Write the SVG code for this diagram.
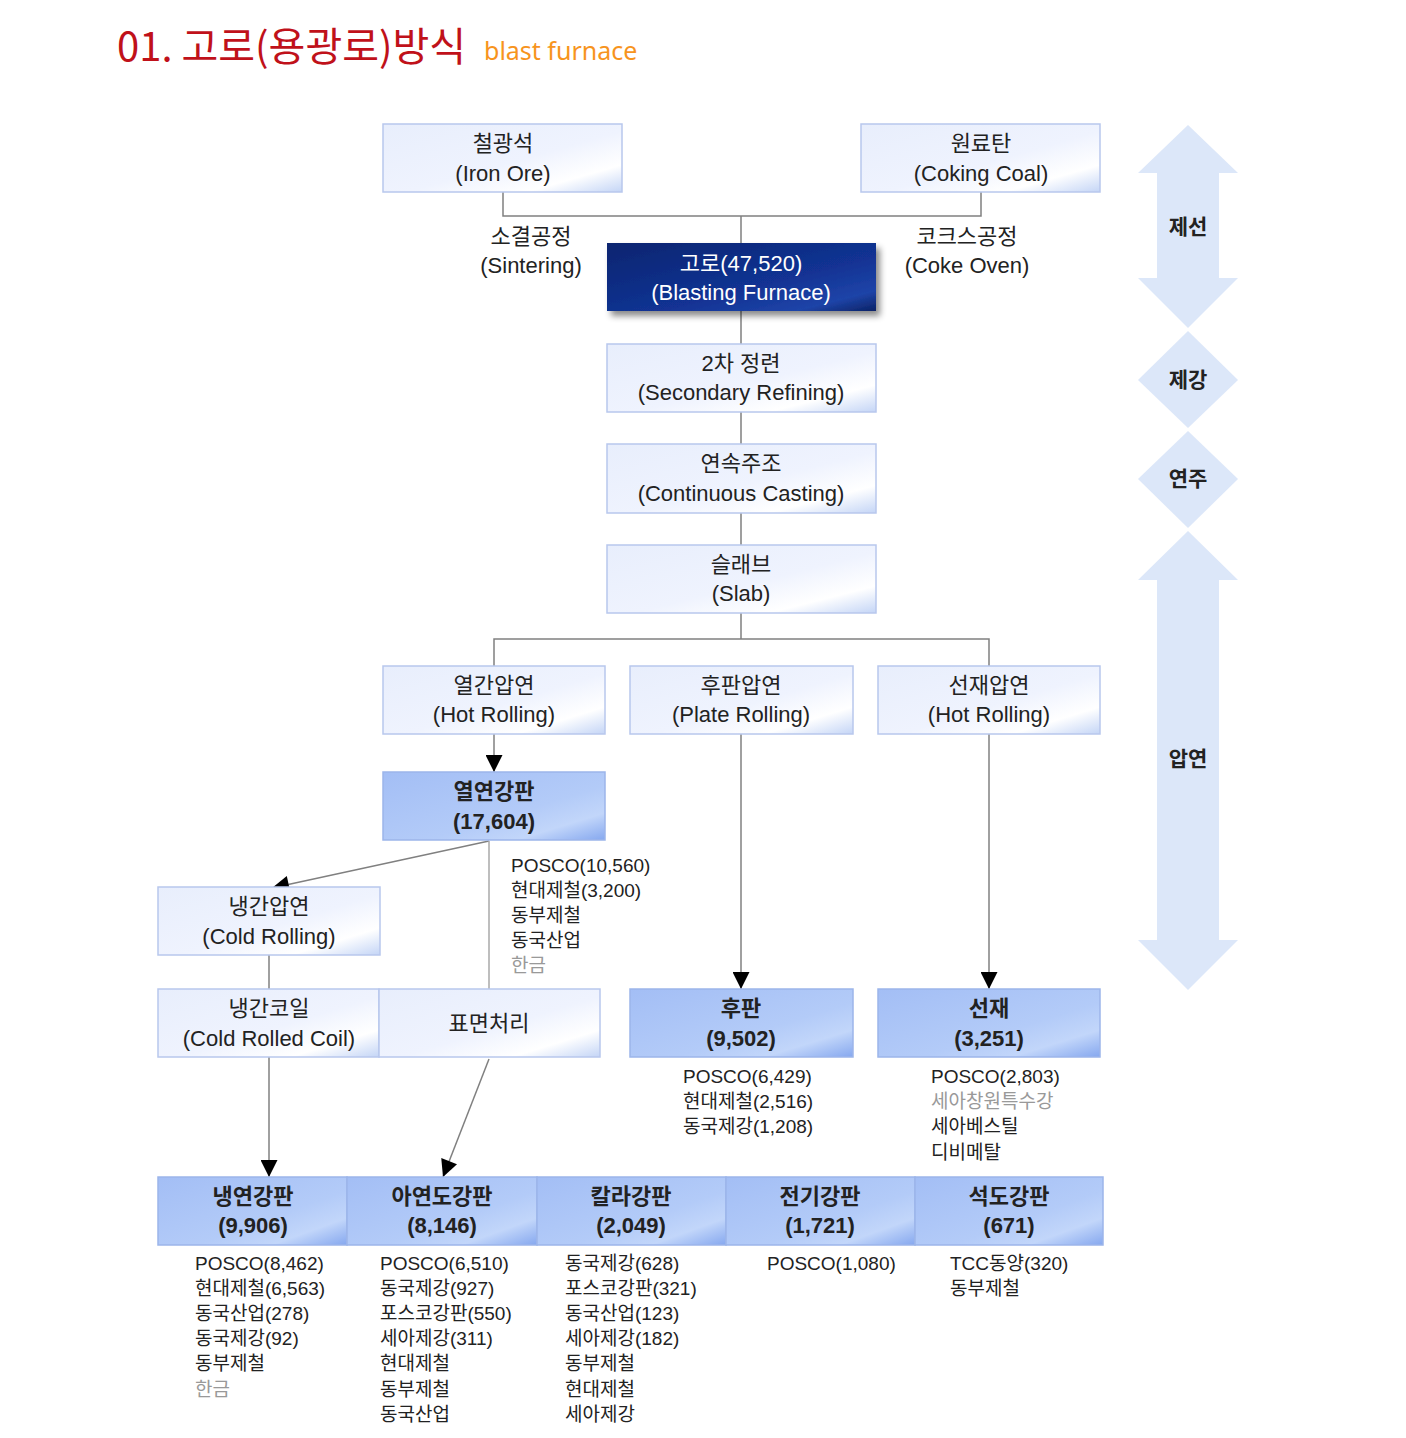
<svg xmlns="http://www.w3.org/2000/svg" width="1406" height="1438" viewBox="0 0 1406 1438">
<defs>
<linearGradient id="gLight" x1="0" y1="0" x2="1" y2="1">
<stop offset="0" stop-color="#e8eefc"/>
<stop offset="0.55" stop-color="#eff3fe"/>
<stop offset="0.8" stop-color="#ffffff"/>
<stop offset="1" stop-color="#c4d5f6"/>
</linearGradient>
<linearGradient id="gProd" x1="0" y1="0" x2="1" y2="1">
<stop offset="0" stop-color="#a3bef5"/>
<stop offset="0.6" stop-color="#b3cbf8"/>
<stop offset="0.8" stop-color="#c2d6fa"/>
<stop offset="1" stop-color="#86a8ef"/>
</linearGradient>
<linearGradient id="gNavy" x1="0" y1="0" x2="1" y2="1">
<stop offset="0" stop-color="#0a2570"/>
<stop offset="0.6" stop-color="#123394"/>
<stop offset="0.85" stop-color="#1e44a8"/>
<stop offset="1" stop-color="#0b2266"/>
</linearGradient>
<filter id="shadow" x="-10%" y="-20%" width="125%" height="150%">
<feDropShadow dx="4" dy="5" stdDeviation="3" flood-color="#000" flood-opacity="0.45"/>
</filter>
<marker id="arr" viewBox="0 0 10 10" refX="10" refY="5" markerWidth="19" markerHeight="17" markerUnits="userSpaceOnUse" orient="auto">
<path d="M0,0 L10,5 L0,10 z" fill="#000"/>
</marker>
<style>
.box{fill:url(#gLight);stroke:#b8c7ed;stroke-width:1.5}
.prod{fill:url(#gProd);stroke:#9cb5ea;stroke-width:1.5}
.t{font-family:"Liberation Sans","Noto Sans CJK KR",sans-serif;font-size:22px;fill:#222;text-anchor:middle}
.b{font-weight:bold}
.w{fill:#fff}
.l{font-family:"Liberation Sans","Noto Sans CJK KR",sans-serif;font-size:19px;fill:#222}
.g{fill:#999}
.k{font-family:"Noto Sans CJK KR",sans-serif;font-size:21px;font-weight:bold;fill:#222;text-anchor:middle}
.c{fill:none;stroke:#808080;stroke-width:1.5}
.side{fill:#dce7f9}
</style>
</defs>
<rect width="1406" height="1438" fill="#fff"/>

<g id="title">
<text x="117" y="61" font-family="Noto Sans CJK KR, sans-serif" font-size="40" fill="#c0111a">01. 고로(용광로)방식</text>
<text x="484" y="60" font-family="Noto Sans, Noto Sans CJK KR, sans-serif" font-size="25" fill="#f7941d">blast furnace</text>
</g>

<g id="stages">
<g id="stage-jeseon">
<path class="side" d="M1188,125 L1238,173 L1219,173 L1219,278 L1238,278 L1188,328 L1138,278 L1157,278 L1157,173 L1138,173 Z"/>
<text class="k" x="1188" y="234">제선</text>
</g>
<g id="stage-jegang">
<path class="side" d="M1188,331 L1238,380 L1188,428 L1138,380 Z"/>
<text class="k" x="1188" y="387">제강</text>
</g>
<g id="stage-yeonju">
<path class="side" d="M1188,431 L1238,479 L1188,528 L1138,479 Z"/>
<text class="k" x="1188" y="486">연주</text>
</g>
<g id="stage-apyeon">
<path class="side" d="M1188,531 L1238,580 L1219,580 L1219,940 L1238,940 L1188,990 L1138,940 L1157,940 L1157,580 L1138,580 Z"/>
<text class="k" x="1188" y="766">압연</text>
</g>
</g>

<g id="connectors">
<path class="c" d="M503,192 V216 H981 V192 M741,216 V243"/>
<path class="c" d="M741,311 V344 M741,412 V444 M741,513 V545 M741,613 V639 M494,666 V639 H989 V666"/>
<path class="c" d="M494,734 V772" marker-end="url(#arr)"/>
<path class="c" d="M489,841 L272,888" marker-end="url(#arr)"/>
<path class="c" d="M489,841 V989" style="stroke:#a8a8a8"/>
<path class="c" d="M269,955 V989"/>
<path class="c" d="M741,734 V989" marker-end="url(#arr)"/>
<path class="c" d="M989,734 V989" marker-end="url(#arr)"/>
<path class="c" d="M269,1057 V1177" marker-end="url(#arr)"/>
<path class="c" d="M489,1059 L443,1177" marker-end="url(#arr)"/>
</g>

<g id="n-ironore">
<rect class="box" x="383" y="124" width="239" height="68"/>
<text class="t" x="503" y="151">철광석</text>
<text class="t" x="503" y="181">(Iron Ore)</text>
</g>
<g id="n-cokingcoal">
<rect class="box" x="861" y="124" width="239" height="68"/>
<text class="t" x="981" y="151">원료탄</text>
<text class="t" x="981" y="181">(Coking Coal)</text>
</g>
<g id="l-sintering">
<text class="t" x="531" y="244">소결공정</text>
<text class="t" x="531" y="273">(Sintering)</text>
</g>
<g id="l-cokeoven">
<text class="t" x="967" y="244">코크스공정</text>
<text class="t" x="967" y="273">(Coke Oven)</text>
</g>
<g id="n-furnace">
<rect x="607" y="243" width="269" height="68" fill="url(#gNavy)" filter="url(#shadow)"/>
<text class="t w" x="741" y="271">고로(47,520)</text>
<text class="t w" x="741" y="300">(Blasting Furnace)</text>
</g>
<g id="n-secondary">
<rect class="box" x="607" y="344" width="269" height="68"/>
<text class="t" x="741" y="371">2차 정련</text>
<text class="t" x="741" y="400">(Secondary Refining)</text>
</g>
<g id="n-casting">
<rect class="box" x="607" y="444" width="269" height="69"/>
<text class="t" x="741" y="471">연속주조</text>
<text class="t" x="741" y="501">(Continuous Casting)</text>
</g>
<g id="n-slab">
<rect class="box" x="607" y="545" width="269" height="68"/>
<text class="t" x="741" y="572">슬래브</text>
<text class="t" x="741" y="601">(Slab)</text>
</g>
<g id="n-hotrolling">
<rect class="box" x="383" y="666" width="222" height="68"/>
<text class="t" x="494" y="693">열간압연</text>
<text class="t" x="494" y="722">(Hot Rolling)</text>
</g>
<g id="n-platerolling">
<rect class="box" x="630" y="666" width="223" height="68"/>
<text class="t" x="741" y="693">후판압연</text>
<text class="t" x="741" y="722">(Plate Rolling)</text>
</g>
<g id="n-wirerolling">
<rect class="box" x="878" y="666" width="222" height="68"/>
<text class="t" x="989" y="693">선재압연</text>
<text class="t" x="989" y="722">(Hot Rolling)</text>
</g>
<g id="n-hotsheet">
<rect class="prod" x="383" y="772" width="222" height="68"/>
<text class="t b" x="494" y="799">열연강판</text>
<text class="t b" x="494" y="829">(17,604)</text>
</g>
<g id="l-hotsheet">
<text class="l" x="511" y="872">POSCO(10,560)</text>
<text class="l" x="511" y="897">현대제철(3,200)</text>
<text class="l" x="511" y="922">동부제철</text>
<text class="l" x="511" y="947">동국산업</text>
<text class="l g" x="511" y="972">한금</text>
</g>
<g id="n-coldrolling">
<rect class="box" x="158" y="887" width="222" height="68"/>
<text class="t" x="269" y="914">냉간압연</text>
<text class="t" x="269" y="944">(Cold Rolling)</text>
</g>
<g id="n-coldcoil">
<rect class="box" x="158" y="989" width="221" height="68"/>
<text class="t" x="269" y="1016">냉간코일</text>
<text class="t" x="269" y="1046">(Cold Rolled Coil)</text>
</g>
<g id="n-surface">
<rect class="box" x="379" y="989" width="221" height="68"/>
<text class="t" x="489" y="1031">표면처리</text>
</g>
<g id="n-plate">
<rect class="prod" x="630" y="989" width="223" height="68"/>
<text class="t b" x="741" y="1016">후판</text>
<text class="t b" x="741" y="1046">(9,502)</text>
</g>
<g id="l-plate">
<text class="l" x="683" y="1083">POSCO(6,429)</text>
<text class="l" x="683" y="1108">현대제철(2,516)</text>
<text class="l" x="683" y="1133">동국제강(1,208)</text>
</g>
<g id="n-wire">
<rect class="prod" x="878" y="989" width="222" height="68"/>
<text class="t b" x="989" y="1016">선재</text>
<text class="t b" x="989" y="1046">(3,251)</text>
</g>
<g id="l-wire">
<text class="l" x="931" y="1083">POSCO(2,803)</text>
<text class="l g" x="931" y="1108">세아창원특수강</text>
<text class="l" x="931" y="1133">세아베스틸</text>
<text class="l" x="931" y="1159">디비메탈</text>
</g>

<g id="n-coldsheet">
<rect class="prod" x="158" y="1177" width="189" height="68"/>
<text class="t b" x="253" y="1204">냉연강판</text>
<text class="t b" x="253" y="1233">(9,906)</text>
</g>
<g id="n-galv">
<rect class="prod" x="347" y="1177" width="190" height="68"/>
<text class="t b" x="442" y="1204">아연도강판</text>
<text class="t b" x="442" y="1233">(8,146)</text>
</g>
<g id="n-color">
<rect class="prod" x="537" y="1177" width="189" height="68"/>
<text class="t b" x="631" y="1204">칼라강판</text>
<text class="t b" x="631" y="1233">(2,049)</text>
</g>
<g id="n-elec">
<rect class="prod" x="726" y="1177" width="189" height="68"/>
<text class="t b" x="820" y="1204">전기강판</text>
<text class="t b" x="820" y="1233">(1,721)</text>
</g>
<g id="n-tin">
<rect class="prod" x="915" y="1177" width="188" height="68"/>
<text class="t b" x="1009" y="1204">석도강판</text>
<text class="t b" x="1009" y="1233">(671)</text>
</g>

<g id="l-coldsheet">
<text class="l" x="195" y="1270">POSCO(8,462)</text>
<text class="l" x="195" y="1295">현대제철(6,563)</text>
<text class="l" x="195" y="1320">동국산업(278)</text>
<text class="l" x="195" y="1345">동국제강(92)</text>
<text class="l" x="195" y="1370">동부제철</text>
<text class="l g" x="195" y="1396">한금</text>
</g>
<g id="l-galv">
<text class="l" x="380" y="1270">POSCO(6,510)</text>
<text class="l" x="380" y="1295">동국제강(927)</text>
<text class="l" x="380" y="1320">포스코강판(550)</text>
<text class="l" x="380" y="1345">세아제강(311)</text>
<text class="l" x="380" y="1370">현대제철</text>
<text class="l" x="380" y="1396">동부제철</text>
<text class="l" x="380" y="1421">동국산업</text>
</g>
<g id="l-color">
<text class="l" x="565" y="1270">동국제강(628)</text>
<text class="l" x="565" y="1295">포스코강판(321)</text>
<text class="l" x="565" y="1320">동국산업(123)</text>
<text class="l" x="565" y="1345">세아제강(182)</text>
<text class="l" x="565" y="1370">동부제철</text>
<text class="l" x="565" y="1396">현대제철</text>
<text class="l" x="565" y="1421">세아제강</text>
</g>
<g id="l-elec">
<text class="l" x="767" y="1270">POSCO(1,080)</text>
</g>
<g id="l-tin">
<text class="l" x="950" y="1270">TCC동양(320)</text>
<text class="l" x="950" y="1295">동부제철</text>
</g>
</svg>
